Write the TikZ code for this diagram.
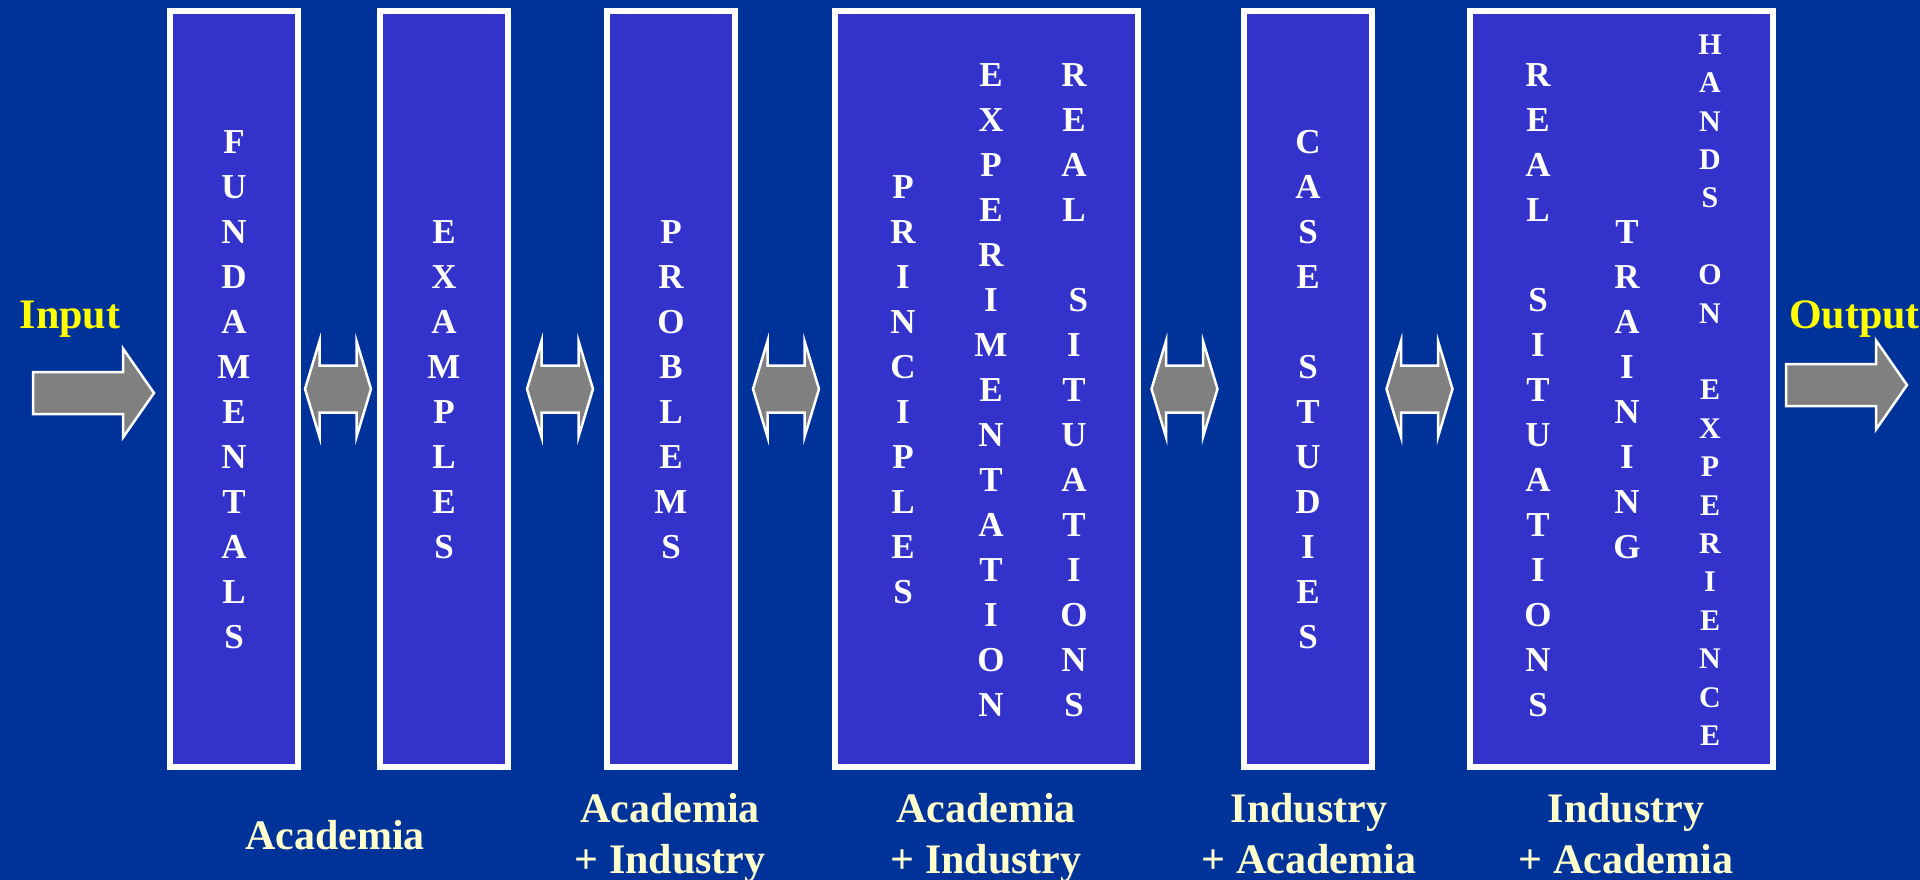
\documentclass[tikz,border=0pt]{standalone}
\usepackage{fontspec}
\setmainfont{Liberation Serif}
\definecolor{pageblue}{RGB}{0,51,153}
\definecolor{boxblue}{RGB}{51,51,204}
\definecolor{arrowgray}{RGB}{128,128,128}
\definecolor{labelcream}{RGB}{255,255,204}
\definecolor{ioyellow}{RGB}{255,255,0}
\begin{document}
\begin{tikzpicture}[x=1pt,y=-1pt,
  stage/.style={draw=white, line width=6pt, fill=boxblue, inner sep=0pt,
                minimum height=755.5pt},
  narrow/.style={stage, minimum width=128pt},
  wide/.style={stage, minimum width=303pt},
  col/.style={text=white, align=center, inner sep=0pt,
              font=\fontsize{35}{45}\selectfont\bfseries},
  smallcol/.style={col, font=\fontsize{30}{38.4}\selectfont\bfseries},
  lbl/.style={text=labelcream, inner sep=0pt, anchor=base,
              font=\fontsize{42}{51}\selectfont\bfseries},
  io/.style={text=ioyellow, inner sep=0pt, anchor=base,
             font=\fontsize{42}{51}\selectfont\bfseries},
  blockarrow/.style={fill=arrowgray, draw=white, line width=2.5pt, line join=miter},
  twoway/.pic={\draw[blockarrow] (-33,0) -- (-18.5,-48) -- (-18.5,-23.5)
      -- (18.5,-23.5) -- (18.5,-48) -- (33,0) -- (18.5,48) -- (18.5,23.5)
      -- (-18.5,23.5) -- (-18.5,48) -- cycle;},
  oneway/.pic={\draw[blockarrow] (-60.5,-21) -- (29.5,-21) -- (29.5,-44.5)
      -- (60.5,0) -- (29.5,44.5) -- (29.5,21) -- (-60.5,21) -- cycle;}
]
% page
\useasboundingbox (0,0) rectangle (1920,880);
\fill[pageblue] (0,0) rectangle (1920,880);

% stages
\node[narrow] (b1) at (234,389.25) {};
\node[narrow] (b2) at (444,389.25) {};
\node[narrow] (b3) at (671,389.25) {};
\node[wide]   (b4) at (986.5,389.25) {};
\node[narrow] (b5) at (1308,389.25) {};
\node[wide]   (b6) at (1621.5,389.25) {};

% vertical words
\node[col] (fund) at (234,390) {F\\U\\N\\D\\A\\M\\E\\N\\T\\A\\L\\S};
\node[col] (exam) at (444,390) {E\\X\\A\\M\\P\\L\\E\\S};
\node[col] (prob) at (671,390) {P\\R\\O\\B\\L\\E\\M\\S};
\node[col] (prin) at (903,390) {P\\R\\I\\N\\C\\I\\P\\L\\E\\S};
\node[col] (expe) at (991,390) {E\\X\\P\\E\\R\\I\\M\\E\\N\\T\\A\\T\\I\\O\\N};
\node[col] (real) at (1074,390) {R\\E\\A\\L\\[45pt]\hspace*{0.25em}S\\I\\T\\U\\A\\T\\I\\O\\N\\S};
\node[col] (case) at (1308,390) {C\\A\\S\\E\\[45pt]S\\T\\U\\D\\I\\E\\S};
\node[col] (rsit) at (1538,390) {R\\E\\A\\L\\[45pt]S\\I\\T\\U\\A\\T\\I\\O\\N\\S};
\node[col] (trai) at (1627,390) {T\\R\\A\\I\\N\\I\\N\\G};
\node[smallcol] (hand) at (1710,390) {H\\A\\N\\D\\S\\[38.4pt]O\\N\\[38.4pt]E\\X\\P\\E\\R\\I\\E\\N\\C\\E};

% two-way arrows between stages
\pic at (338,389) {twoway};
\pic at (560,389) {twoway};
\pic at (786,389) {twoway};
\pic at (1184.5,389) {twoway};
\pic at (1419.5,389) {twoway};

% input and output
\pic at (93.5,393) {oneway};
\pic at (1846.5,385) {oneway};
\node[io] (in) at (70,328) {Input};
\node[io, anchor=base west] (out) at (1789,328) {Output};

% who delivers each stage
\node[lbl] (l1)  at (335,849) {Academia};
\node[lbl] (l2a) at (670,822) {Academia};
\node[lbl] (l2b) at (670,873) {+ Industry};
\node[lbl] (l3a) at (986,822) {Academia};
\node[lbl] (l3b) at (986,873) {+ Industry};
\node[lbl] (l4a) at (1309,822) {Industry};
\node[lbl] (l4b) at (1309,873) {+ Academia};
\node[lbl] (l5a) at (1626,822) {Industry};
\node[lbl] (l5b) at (1626,873) {+ Academia};
\end{tikzpicture}
\end{document}
